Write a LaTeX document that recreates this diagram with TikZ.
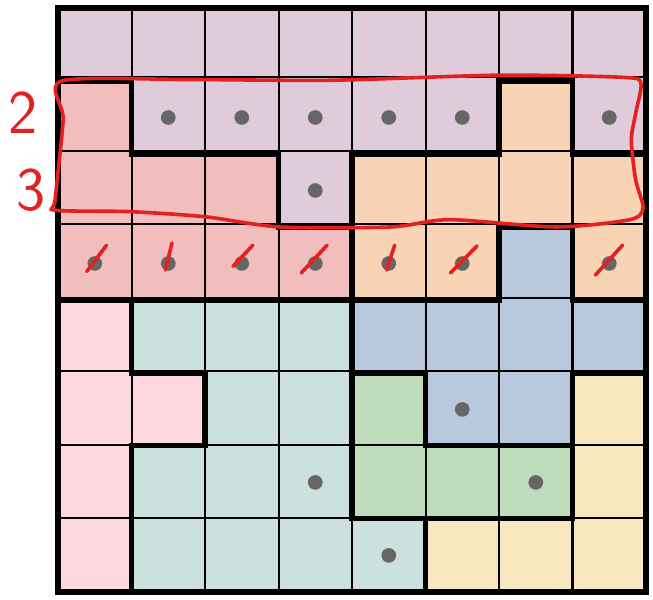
\documentclass[tikz,border=0pt]{standalone}
\usetikzlibrary{calc}
\definecolor{fia}{RGB}{223,203,218}
\definecolor{cer}{RGB}{242,189,189}
\definecolor{ora}{RGB}{248,211,180}
\definecolor{mod}{RGB}{184,201,222}
\definecolor{roz}{RGB}{253,216,222}
\definecolor{tyr}{RGB}{202,225,222}
\definecolor{zel}{RGB}{190,219,188}
\definecolor{zlu}{RGB}{247,232,191}
\definecolor{rucne}{RGB}{228,32,32}

\begin{document}
\begin{tikzpicture}[x=1cm,y=0.993cm,reg/.style={draw=black,line width=2pt},tec/.style={fill=black!60},
  pero/.style={rucne,line width=1.4pt,line cap=round,line join=round},font=\sffamily]
  \useasboundingbox (-0.79,-0.11) rectangle (8.095,8.11);
  % oblasti
  \filldraw[reg,fill=fia] (0,8)--(8,8)--(8,6)--(7,6)--(7,7)--(6,7)--(6,6)--(4,6)--(4,5)--(3,5)--(3,6)--(1,6)--(1,7)--(0,7)--cycle;
  \filldraw[reg,fill=cer] (0,7)--(1,7)--(1,6)--(3,6)--(3,5)--(4,5)--(4,4)--(0,4)--cycle;
  \filldraw[reg,fill=ora] (6,7)--(7,7)--(7,6)--(8,6)--(8,4)--(7,4)--(7,5)--(6,5)--(6,4)--(4,4)--(4,6)--(6,6)--cycle;
  \filldraw[reg,fill=mod] (6,5)--(7,5)--(7,4)--(8,4)--(8,3)--(7,3)--(7,2)--(5,2)--(5,3)--(4,3)--(4,4)--(6,4)--cycle;
  \filldraw[reg,fill=roz] (0,4)--(1,4)--(1,3)--(2,3)--(2,2)--(1,2)--(1,0)--(0,0)--cycle;
  \filldraw[reg,fill=tyr] (1,4)--(4,4)--(4,1)--(5,1)--(5,0)--(1,0)--(1,2)--(2,2)--(2,3)--(1,3)--cycle;
  \filldraw[reg,fill=zel] (4,3)--(5,3)--(5,2)--(7,2)--(7,1)--(4,1)--cycle;
  \filldraw[reg,fill=zlu] (7,3)--(8,3)--(8,0)--(5,0)--(5,1)--(7,1)--cycle;
  % mrizka a okraj
  \draw[line width=0.8pt] (0,0) grid (8,8);
  \draw[line width=2.6pt] (0,0) rectangle (8,8);
  % tecky (sloupec/radek)
  \foreach \c/\r in {1/1,2/1,3/1,4/1,5/1,7/1,3/2,0/3,1/3,2/3,3/3,4/3,5/3,7/3,5/5,3/6,6/6,4/7}
    {\fill[tec] (\c+0.5,7.5-\r) circle (0.1);}
  % skrtnute tecky v radku 3
  \foreach \c/\a/\b/\p/\q in {0/-0.11/-0.14/0.16/0.22,1/-0.04/-0.12/0.05/0.25,2/-0.12/-0.07/0.15/0.22,
    3/-0.19/-0.16/0.16/0.22,4/-0.03/-0.12/0.08/0.22,5/-0.16/-0.16/0.20/0.21,7/-0.19/-0.19/0.18/0.22}
    {\draw[pero] (\c+0.5+\a,4.53+\b) -- (\c+0.5+\p,4.53+\q);}
  % smycka kolem radku 2 a 3
  \draw[pero] plot[smooth cycle,tension=0.45] coordinates {(0.05,7.0) (1.8,7.02) (3.7,7.01) (6.0,7.08)
    (7.69,7.05) (7.93,6.97) (7.86,6.56) (7.80,6.19) (7.86,5.64) (7.96,5.26) (7.78,5.10) (6.78,5.0)
    (5.33,5.10) (4.52,5.0) (3.02,5.0) (2.0,5.14) (0.98,5.21) (-0.04,5.23) (-0.04,5.37) (0.07,6.47)};
  \node[rucne,font=\sffamily\fontsize{24}{24}\selectfont] (dva) at (-0.48,6.56) {2};
  \node[rucne,font=\sffamily\fontsize{24}{24}\selectfont] (tri) at (-0.37,5.51) {3};
\end{tikzpicture}
\end{document}
